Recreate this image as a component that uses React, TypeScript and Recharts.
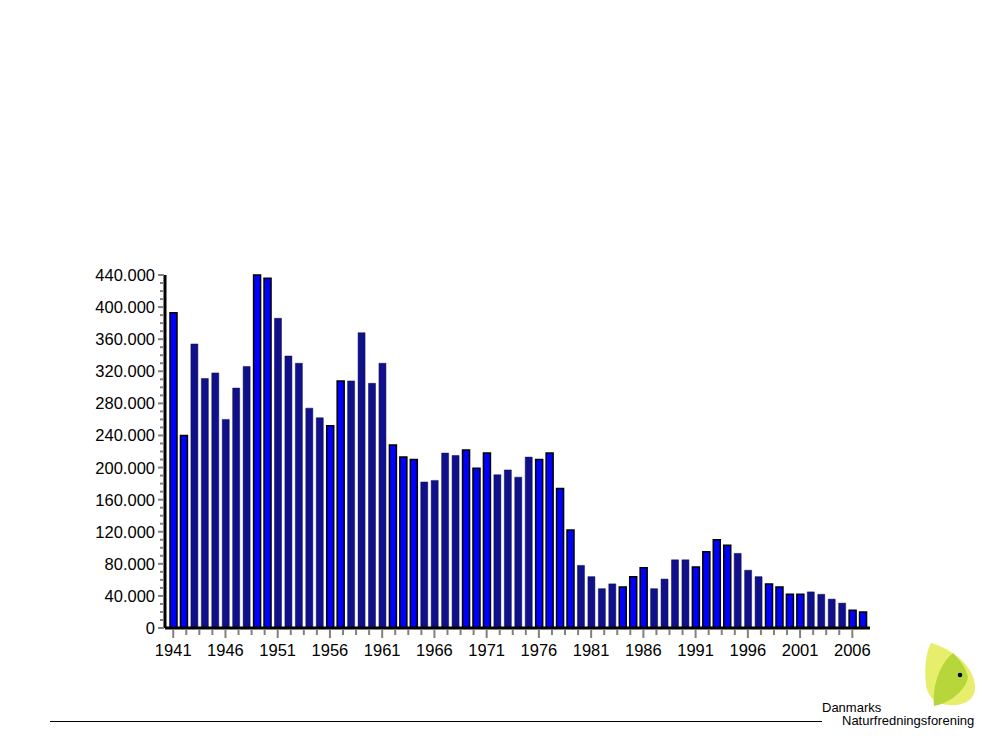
import { Bar, BarChart, Cell, XAxis, YAxis } from "recharts"

const years = [
    1941, 1942, 1943, 1944, 1945, 1946, 1947, 1948, 1949, 1950,
    1951, 1952, 1953, 1954, 1955, 1956, 1957, 1958, 1959, 1960,
    1961, 1962, 1963, 1964, 1965, 1966, 1967, 1968, 1969, 1970,
    1971, 1972, 1973, 1974, 1975, 1976, 1977, 1978, 1979, 1980,
    1981, 1982, 1983, 1984, 1985, 1986, 1987, 1988, 1989, 1990,
    1991, 1992, 1993, 1994, 1995, 1996, 1997, 1998, 1999, 2000,
    2001, 2002, 2003, 2004, 2005, 2006, 2007,
]

const values = [
    393000, 240000, 354000, 311000, 318000, 260000, 299000, 326000, 440000, 436000,
    386000, 339000, 330000, 274000, 262000, 252000, 308000, 308000, 368000, 305000,
    330000, 228000, 213000, 210000, 182000, 184000, 218000, 215000, 222000, 199000,
    218000, 191000, 197000, 188000, 213000, 210000, 218000, 174000, 122000, 78000,
    64000, 49000, 55000, 51000, 64000, 75000, 49000, 61000, 85000, 85000,
    76000, 95000, 110000, 103000, 93000, 72000, 64000, 55000, 51000, 42000,
    42000, 45000, 42000, 36000, 31000, 22000, 20000,
]

// years that come out in the bright blue in the picture
const brightYears = new Set([
    1941, 1942, 1949, 1950, 1956, 1957, 1962, 1963, 1964, 1969, 1970, 1971,
    1976, 1977, 1978, 1979, 1984, 1985, 1986, 1991, 1992, 1993, 1994,
    1998, 1999, 2000, 2001, 2006, 2007,
])

const yTicks: number[] = []
for (let v = 0; v <= 440000; v += 10000) yTicks.push(v)

const data = years.map((year, i) => ({ year, value: values[i] }))

const PLOT_LEFT = 165
const PLOT_RIGHT = 870
const PAD_L = 3
const PAD_R = 2
const band = (PLOT_RIGHT - PLOT_LEFT - PAD_L - PAD_R) / years.length
const FONT = "'Liberation Sans', Arial, sans-serif"

const fmt = (v: number) => String(v / 1000) + (v === 0 ? "" : ".000")

const YTick = (props: any) => {
    const { y, payload } = props
    const ax = PLOT_LEFT
    const major = payload.value % 40000 === 0
    return (
        <g>
            <line x1={ax - 1} x2={ax - (major ? 7 : 5)} y1={y} y2={y} stroke="#808080" strokeWidth={2} />
            {major && (
                <text x={ax - 10} y={y + 6} textAnchor="end" fontSize={16.5} fill="#000" fontFamily={FONT}>
                    {fmt(payload.value)}
                </text>
            )}
        </g>
    )
}

const XTick = (props: any) => {
    const { x, payload, index } = props
    if (index % 5 !== 0) return <g />
    const base = 630
    const minors = payload.value < 2006 ? [1.25, 2.5, 3.75] : []
    return (
        <g>
            <line x1={x} x2={x} y1={base} y2={base + 8} stroke="#808080" strokeWidth={2} />
            {minors.map((m) => (
                <line key={m} x1={x + m * band} x2={x + m * band} y1={base} y2={base + 5} stroke="#808080" strokeWidth={2} />
            ))}
            <text x={x} y={base + 26} textAnchor="middle" fontSize={16.5} fill="#000" fontFamily={FONT}>
                {payload.value}
            </text>
        </g>
    )
}

export default function App() {
    return (
        <div
            style={{
                position: "absolute",
                left: 0,
                top: 0,
                width: 1000,
                height: 750,
                background: "#fff",
                fontFamily: FONT,
            }}
        >
            <BarChart
                width={1000}
                height={750}
                data={data}
                margin={{ top: 275, right: 1000 - PLOT_RIGHT, bottom: 92, left: 0 }}
                barSize={7}
            >
                <XAxis
                    dataKey="year"
                    interval={0}
                    height={30}
                    padding={{ left: PAD_L, right: PAD_R }}
                    tick={<XTick />}
                    tickLine={false}
                    axisLine={{ stroke: "#000", strokeWidth: 3 }}
                />
                <YAxis
                    domain={[0, 440000]}
                    ticks={yTicks}
                    interval={0}
                    width={PLOT_LEFT}
                    tick={<YTick />}
                    tickLine={false}
                    axisLine={{ stroke: "#000", strokeWidth: 3 }}
                />
                <Bar dataKey="value" isAnimationActive={false}>
                    {data.map((d) => (
                        <Cell
                            key={d.year}
                            fill={brightYears.has(d.year) ? "#0000ff" : "#10108a"}
                            stroke={brightYears.has(d.year) ? "#000" : "#0a0a50"}
                            strokeWidth={brightYears.has(d.year) ? 1.5 : 0.5}
                        />
                    ))}
                </Bar>
            </BarChart>
            <svg
                width={1000}
                height={750}
                style={{ position: "absolute", left: 0, top: 0, pointerEvents: "none" }}
            >
                <line x1={50} x2={822} y1={721.5} y2={721.5} stroke="#000" strokeWidth={1} />
                <path
                    d="M931 643 C948 648 968 660 974 680 C978 695 970 704 955 705 C940 706 928 700 926 685 C924 668 926 652 931 643 Z"
                    fill="#e6ee6c"
                />
                <path
                    d="M953 653 C960 660 966 668 968 677 C966 690 950 703 934 706 C932 690 938 665 953 653 Z"
                    fill="#b6d63c"
                />
                <circle cx={960} cy={675} r={2.3} fill="#000" />
                <text x={822} y={712} fontSize={13} fill="#000" fontFamily={FONT}>
                    Danmarks
                </text>
                <text x={842} y={725} fontSize={13} fill="#000" fontFamily={FONT}>
                    Naturfredningsforening
                </text>
            </svg>
        </div>
    )
}
